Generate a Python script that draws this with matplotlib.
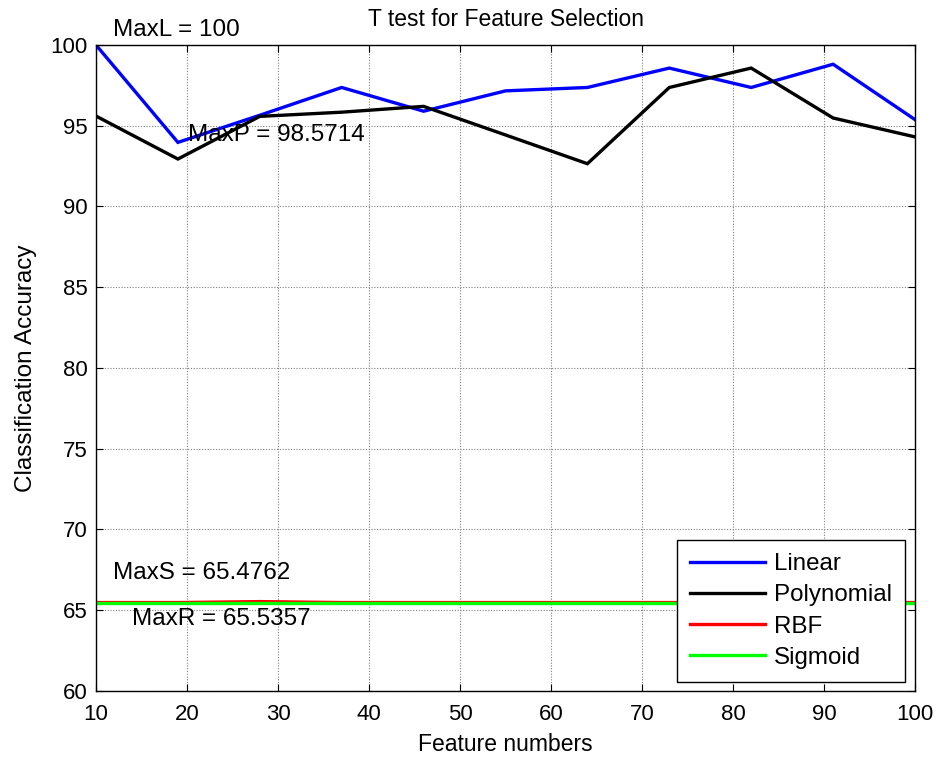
import matplotlib
matplotlib.use("Agg")
import matplotlib.pyplot as plt

plt.rcParams['font.family'] = ['Liberation Sans', 'DejaVu Sans']

features = [10, 19, 28, 37, 46, 55, 64, 73, 82, 91, 100]
linear = [100.0, 93.97, 95.65, 97.37, 95.90, 97.16, 97.37, 98.57, 97.37, 98.81, 95.38]
polynomial = [95.60, 92.94, 95.58, 95.84, 96.20, 94.43, 92.65, 97.37, 98.5714, 95.48, 94.31]
rbf = [65.4762, 65.4762, 65.5357, 65.4762, 65.4762, 65.4762, 65.4762, 65.4762, 65.4762, 65.4762, 65.4762]
sigmoid = [65.4762] * 11

series_names = ["Linear", "Polynomial", "RBF", "Sigmoid"]
series_colors = ["#0000ff", "#000000", "#ff0000", "#00ff00"]

annotations = [
    ("MaxL = 100", 11.9, 100.9),
    ("MaxP = 98.5714", 20.1, 94.4),
    ("MaxS = 65.4762", 11.9, 67.3),
    ("MaxR = 65.5357", 14.0, 64.45),
]

fig = plt.figure(figsize=(9.42, 7.58), dpi=100)
ax = fig.add_axes([96/942, 1-691/758, (915-96)/942, (691-45)/758])

for data, name, col in zip([linear, polynomial, rbf, sigmoid], series_names, series_colors):
    ax.plot(features, data, color=col, lw=2.4, label=name, solid_joinstyle='miter')

ax.set_xlim(10, 100)
ax.set_ylim(60, 100)
ax.set_xticks(range(10, 101, 10))
ax.set_yticks(range(60, 101, 5))
ax.grid(True, color='#808080', linestyle=(0, (1, 1.5)), linewidth=0.8)
ax.tick_params(direction='in', top=True, right=True, labelsize=16, length=5)
ax.tick_params(axis='x', pad=9)
ax.tick_params(axis='y', pad=6)
for sp in ax.spines.values():
    sp.set_linewidth(1.0)

for txt, x, y in annotations:
    ax.text(x, y, txt, fontsize=17.5, ha='left', va='center', clip_on=False)

ax.set_title("T test for Feature Selection", fontsize=16.5, pad=14)
ax.set_xlabel("Feature numbers", fontsize=16.5, labelpad=6)
ax.set_ylabel("Classification Accuracy", fontsize=17.5, labelpad=10)

leg = ax.legend(loc='lower right', bbox_to_anchor=(905/942, 1-682/758), bbox_transform=fig.transFigure,
                fontsize=17.4, fancybox=False, framealpha=1, edgecolor='black',
                handlelength=3.1, handletextpad=0.35, labelspacing=0.38, borderpad=0.55,
                borderaxespad=0)
leg.get_frame().set_linewidth(1.0)

fig.savefig("out.png", dpi=100)
